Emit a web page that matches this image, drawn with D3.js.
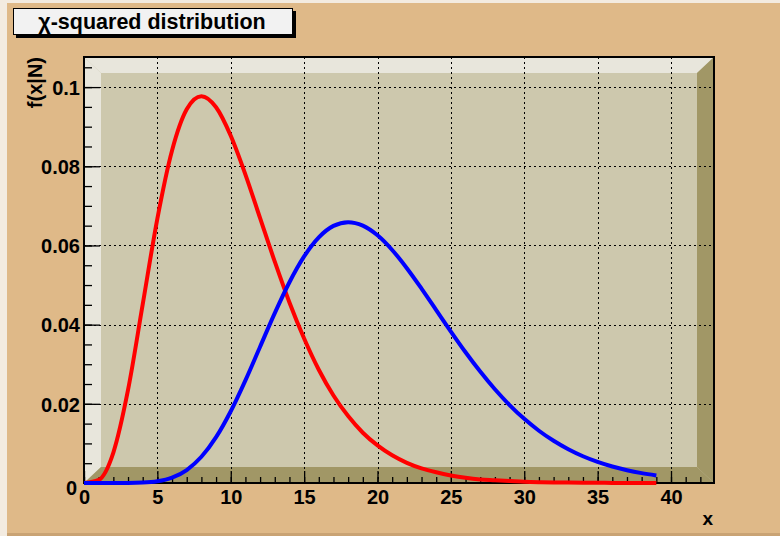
<!DOCTYPE html>
<html>
<head>
<meta charset="utf-8">
<script src="https://cdn.jsdelivr.net/npm/d3@7.9.0/dist/d3.min.js"></script>
<style>
  html, body { margin: 0; padding: 0; background: #fff; }
  svg { display: block; font-family: "Liberation Sans", Arial, sans-serif; font-weight: bold; }
</style>
</head>
<body>
<svg id="chart" width="780" height="536"></svg>
<script>
// values, one point per unit of x
const xValues = d3.range(0, 40);
const redValues = [
  0, 0.0008, 0.0077, 0.0235, 0.0451, 0.0668, 0.0840, 0.0944, 0.0977, 0.0949,
  0.0877, 0.0779, 0.0669, 0.0559, 0.0456, 0.0365, 0.0286, 0.0221, 0.0169, 0.0127,
  0.0095, 0.0070, 0.0051, 0.0037, 0.0027, 0.0019, 0.0013, 0.0009, 0.0007, 0.0005,
  0.0003, 0.0002, 0.00015, 0.0001, 0.00007, 0.00005, 0.00003, 0.00002, 0.000015, 0.00001
];
const blueValues = [
  0, 0, 0.0000005, 0.0000118, 0.0000955, 0.00043, 0.00135, 0.00328, 0.00662, 0.01158,
  0.01813, 0.02593, 0.03442, 0.04290, 0.05070, 0.05722, 0.06204, 0.06494, 0.06588, 0.06500,
  0.06256, 0.05886, 0.05426, 0.04910, 0.04368, 0.03826, 0.03303, 0.02814, 0.02367, 0.01969,
  0.01620, 0.01320, 0.01066, 0.00853, 0.00676, 0.00533, 0.00416, 0.00323, 0.00249, 0.00191
];
const xTicks = [0, 5, 10, 15, 20, 25, 30, 35, 40];
const yTicks = [0, 0.02, 0.04, 0.06, 0.08, 0.1];
const yTickLabels = ['0', '0.02', '0.04', '0.06', '0.08', '0.1'];

const svg = d3.select('#chart');
const W = 780, H = 536;
const frame = { left: 84, right: 714, top: 57, bottom: 483 };
const depth = 17;
const font = '"Liberation Sans", Arial, sans-serif';

const x = d3.scaleLinear().domain([0, 42.93]).range([frame.left, frame.right]);
const y = d3.scaleLinear().domain([0, 0.1076]).range([frame.bottom, frame.top]);

// canvas with bevel
svg.append('rect').attr('width', W).attr('height', H).attr('fill', '#f3ebe0');
svg.append('rect').attr('x', 7).attr('y', 3).attr('width', W - 7).attr('height', H - 3).attr('fill', '#c9a374');
svg.append('rect').attr('x', 7).attr('y', 3).attr('width', W - 7).attr('height', H - 6).attr('fill', '#dfb988');

// 3d box of the frame
const L = frame.left, R = frame.right, T = frame.top, B = frame.bottom;
const walls = [
  { pts: [[L, T], [R, T], [R - depth, T + 16], [L + depth, T + 16]], fill: '#e8e6dc' },
  { pts: [[L, T], [L + depth, T + 16], [L + depth, B - 16], [L, B]], fill: '#e8e6dc' },
  { pts: [[R, T], [R, B], [R - depth, B - 16], [R - depth, T + 16]], fill: '#a19766' },
  { pts: [[L, B], [R, B], [R - depth, B - 16], [L + depth, B - 16]], fill: '#a19766' },
];
svg.append('rect')
  .attr('x', L).attr('y', T).attr('width', R - L).attr('height', B - T)
  .attr('fill', '#cdc8ad');
walls.forEach((w) => {
  svg.append('polygon').attr('points', w.pts.map((p) => p.join(',')).join(' ')).attr('fill', w.fill);
});

// grid
const grid = svg.append('g').attr('stroke', '#000').attr('stroke-width', 1).attr('stroke-dasharray', '2,3');
xTicks.slice(1).forEach((t) => {
  grid.append('line').attr('x1', Math.round(x(t)) + 0.5).attr('x2', Math.round(x(t)) + 0.5)
    .attr('y1', T).attr('y2', B);
});
yTicks.slice(1).forEach((t) => {
  grid.append('line').attr('y1', Math.round(y(t)) + 0.5).attr('y2', Math.round(y(t)) + 0.5)
    .attr('x1', L).attr('x2', R);
});

// axes
const yAxis = svg.append('g').attr('transform', `translate(${L},0)`)
  .call(d3.axisLeft(y).tickValues(yTicks).tickFormat((d, i) => yTickLabels[i]).tickSizeInner(-16).tickSizeOuter(0).tickPadding(4));
const yMinor = svg.append('g').attr('transform', `translate(${L},0)`)
  .call(d3.axisLeft(y).tickValues(d3.range(0, 0.1076, 0.005)).tickFormat('').tickSizeInner(-8).tickSizeOuter(0));
const xAxis = svg.append('g').attr('transform', `translate(0,${B})`)
  .call(d3.axisBottom(x).tickValues(xTicks).tickSizeInner(-12).tickSizeOuter(0).tickPadding(6));
const xMinor = svg.append('g').attr('transform', `translate(0,${B})`)
  .call(d3.axisBottom(x).tickValues(d3.range(0, 43, 1)).tickFormat('').tickSizeInner(-6).tickSizeOuter(0));

[yAxis, yMinor, xAxis, xMinor].forEach((g) => {
  g.select('.domain').remove();
  g.selectAll('line').attr('stroke', '#000').attr('stroke-width', 1.3);
  g.selectAll('text').attr('fill', '#000').attr('font-size', 20).attr('font-weight', 'bold')
    .attr('font-family', font);
});
yAxis.selectAll('text').attr('dy', '0.36em');
xAxis.selectAll('text').attr('dy', '0.74em');
// the zero label of y sits a bit lower, like ROOT draws it
yAxis.selectAll('text').filter((d) => d === 0).attr('dy', '0.58em').attr('x', -7);

// frame border
svg.append('path')
  .attr('d', `M${L},${T}H${R}V${B}H${L}Z`)
  .attr('fill', 'none').attr('stroke', '#000').attr('stroke-width', 2);

// curves
const line = d3.line().x((d, i) => x(xValues[i])).y((d) => y(d)).curve(d3.curveMonotoneX);
svg.append('path').datum(redValues).attr('d', line)
  .attr('fill', 'none').attr('stroke', '#ff0000').attr('stroke-width', 4);
svg.append('path').datum(blueValues).attr('d', line)
  .attr('fill', 'none').attr('stroke', '#0000ff').attr('stroke-width', 4);

// axis titles
svg.append('text').attr('transform', `translate(42,${T}) rotate(-90)`)
  .attr('text-anchor', 'end').attr('font-size', 20).attr('font-family', font).text('f(x|N)');
svg.append('text').attr('x', R - 1).attr('y', 525)
  .attr('text-anchor', 'end').attr('font-size', 19).attr('font-family', font).text('x');

// title box
svg.append('rect').attr('x', 16).attr('y', 11).attr('width', 280).attr('height', 27).attr('fill', '#000');
svg.append('rect').attr('x', 13.5).attr('y', 8.5).attr('width', 279).attr('height', 26)
  .attr('fill', '#f2f2f2').attr('stroke', '#000').attr('stroke-width', 1);
svg.append('text').attr('x', 152).attr('y', 28.5).attr('text-anchor', 'middle')
  .attr('font-size', 21.5).attr('font-family', font).text('χ-squared distribution');
</script>
</body>
</html>
